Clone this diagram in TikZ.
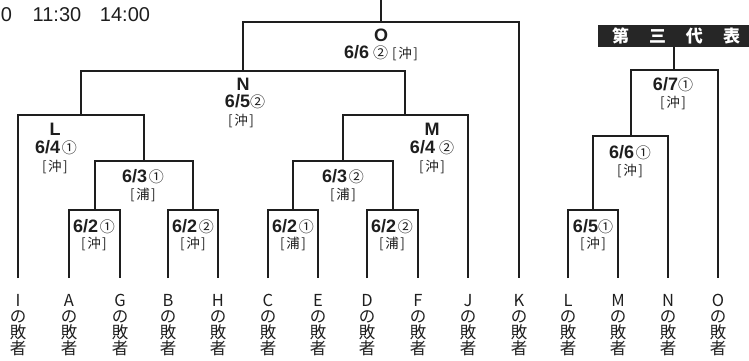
\documentclass[tikz,border=0pt]{standalone}
\usepackage{fontspec}
\setmainfont{Liberation Sans}
\newfontfamily\jp{Noto Sans CJK JP}
\definecolor{ink}{HTML}{1E1E1E}
\definecolor{hdrbg}{HTML}{262626}
\newcommand{\mnum}[1]{{\fontsize{18}{18}\selectfont\bfseries #1}}
\newcommand{\mcirc}[1]{{\jp\fontsize{15}{15}\selectfont #1}}
\newcommand{\mven}[1]{{\jp\fontsize{13.5}{13.5}\selectfont[\hspace{1.5pt}#1\hspace{1.5pt}]}}
\begin{document}
\begin{tikzpicture}[x=1pt,y=-1pt,
  br/.style={line width=2pt, draw=ink},
  lab/.style={inner sep=0pt, anchor=center, text=ink},
  leaf/.style={inner sep=0pt, anchor=north, align=center, text=ink,
    font=\jp\fontsize{16.5}{16}\selectfont},
  timef/.style={inner sep=0pt, anchor=center, text=ink, font=\fontsize{20}{20}\selectfont}]
\useasboundingbox (0,0) rectangle (749,360);
% times
\node[timef] (t0) at (6.5,15) {0};
\node[timef] (t1) at (57,15) {11:30};
\node[timef] (t2) at (125,15) {14:00};
% leaves
\foreach \n/\x in {I/18,A/69,G/120,B/168,H/218,C/268,E/318,D/367,F/418,J/468,K/519,L/568,M/618,N/668,O/718}{
  \coordinate (l\n) at (\x,278);
  \node[leaf] (t\n) at (\x,294) {\n\\の\\敗\\者};
}
% match coordinates
\coordinate (m1) at (94.5,210);
\coordinate (m2) at (193,210);
\coordinate (m3) at (143.75,161);
\coordinate (mL) at (80.9,115);
\coordinate (m4) at (293,210);
\coordinate (m5) at (392.5,210);
\coordinate (m6) at (342.75,161);
\coordinate (mM) at (405.4,115);
\coordinate (mN) at (243.1,71);
\coordinate (mO) at (381,22);
\coordinate (top) at (381,-2);
\coordinate (r1) at (593,210);
\coordinate (r2) at (630.5,136);
\coordinate (r3) at (674.25,70);
% header
\node[fill=hdrbg, minimum width=156pt, minimum height=22pt, inner sep=0pt,
  text=white, font=\jp\fontsize{17}{17}\selectfont\bfseries] (hdr) at (676,36)
  {第\hspace{20pt}三\hspace{20pt}代\hspace{20pt}表};
% brackets
\draw[br] (lA) |- (m1) -| (lG);
\draw[br] (lB) |- (m2) -| (lH);
\draw[br] (m1) |- (m3) -| (m2);
\draw[br] (lI) |- (mL) -| (m3);
\draw[br] (lC) |- (m4) -| (lE);
\draw[br] (lD) |- (m5) -| (lF);
\draw[br] (m4) |- (m6) -| (m5);
\draw[br] (m6) |- (mM) -| (lJ);
\draw[br] (mL) |- (mN) -| (mM);
\draw[br] (mN) |- (mO) -| (lK);
\draw[br] (mO) -- (top);
\draw[br] (lL) |- (r1) -| (lM);
\draw[br] (r1) |- (r2) -| (lN);
\draw[br] (r2) |- (r3) -| (lO);
\draw[br] (r3) -- (r3 |- hdr.south);
% labels
\node[lab] (xO) at (381,35) {\mnum{O}};
\node[lab] (xO2) at (381,53) {\mnum{6/6}\hspace{4pt}\mcirc{②}\hspace{4pt}\mven{沖}};
\node[lab] (xN) at (243,84) {\mnum{N}};
\node[lab] (xN2) at (245,102) {\mnum{6/5}\mcirc{②}};
\node[lab] (xN3) at (241,121) {\mven{沖}};
\node[lab] (xL) at (55,129) {\mnum{L}};
\node[lab] (xL2) at (56,148) {\mnum{6/4}\,\mcirc{①}};
\node[lab] (xL3) at (55,167) {\mven{沖}};
\node[lab] (x3a) at (143,177) {\mnum{6/3}\,\mcirc{①}};
\node[lab] (x3b) at (143,195) {\mven{浦}};
\node[lab] (x2a) at (94,227) {\mnum{6/2}\,\mcirc{①}};
\node[lab] (x2b) at (94,244) {\mven{沖}};
\node[lab] (x2c) at (193,227) {\mnum{6/2}\,\mcirc{②}};
\node[lab] (x2d) at (193,244) {\mven{沖}};
\node[lab] (xM) at (432,129) {\mnum{M}};
\node[lab] (xM2) at (432,148) {\mnum{6/4}\hspace{4pt}\mcirc{②}};
\node[lab] (xM3) at (432,167) {\mven{沖}};
\node[lab] (x3c) at (343,177) {\mnum{6/3}\,\mcirc{②}};
\node[lab] (x3d) at (343,195) {\mven{浦}};
\node[lab] (x2e) at (293,227) {\mnum{6/2}\,\mcirc{①}};
\node[lab] (x2f) at (293,244) {\mven{浦}};
\node[lab] (x2g) at (392,227) {\mnum{6/2}\,\mcirc{②}};
\node[lab] (x2h) at (392,244) {\mven{浦}};
\node[lab] (x7a) at (673,85) {\mnum{6/7}\mcirc{①}};
\node[lab] (x7b) at (673,103) {\mven{沖}};
\node[lab] (x6a) at (630,153) {\mnum{6/6}\,\mcirc{①}};
\node[lab] (x6b) at (630,171) {\mven{沖}};
\node[lab] (x5a) at (593,227) {\mnum{6/5}\mcirc{①}};
\node[lab] (x5b) at (593,244) {\mven{沖}};
\end{tikzpicture}
\end{document}
